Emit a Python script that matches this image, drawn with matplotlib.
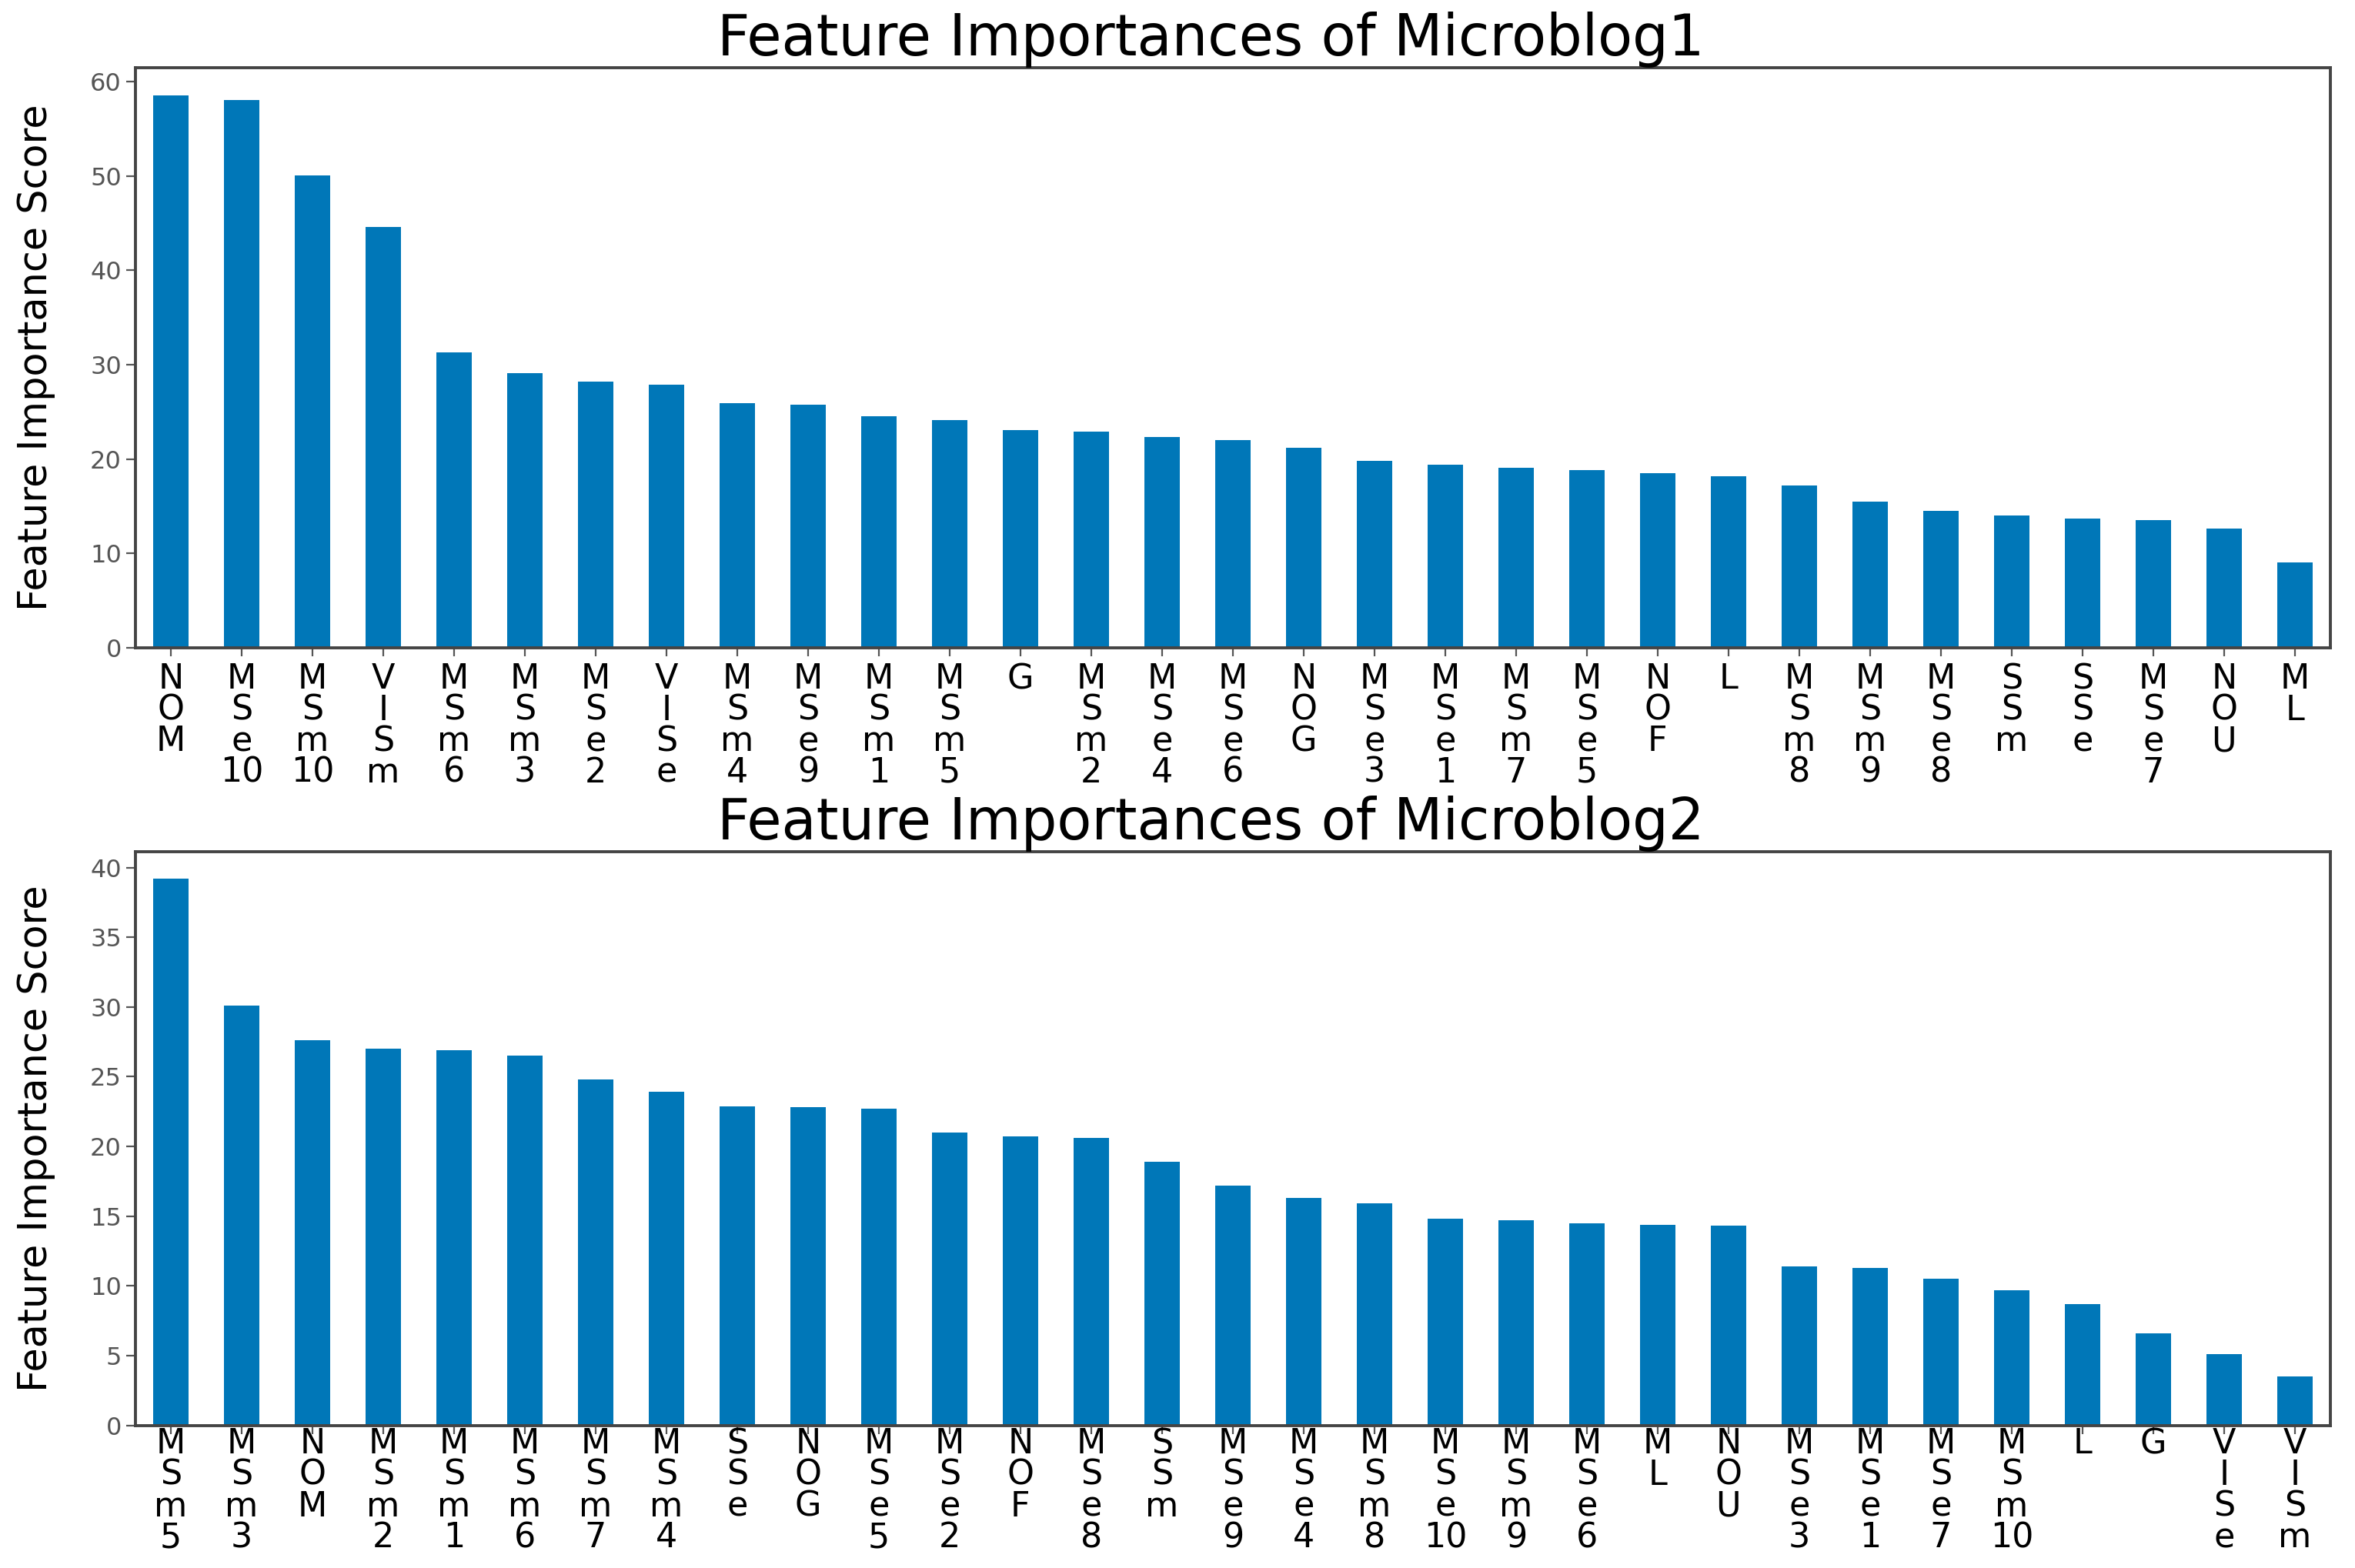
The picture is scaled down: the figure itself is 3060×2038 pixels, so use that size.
import matplotlib
matplotlib.use("Agg")
import matplotlib.pyplot as plt
import numpy as np

names1 = ["NOM", "MSe10", "MSm10", "VISm", "MSm6", "MSm3", "MSe2", "VISe", "MSm4", "MSe9",
          "MSm1", "MSm5", "G", "MSm2", "MSe4", "MSe6", "NOG", "MSe3", "MSe1", "MSm7",
          "MSe5", "NOF", "L", "MSm8", "MSm9", "MSe8", "SSm", "SSe", "MSe7", "NOU", "ML"]
scores1 = [58.6, 58.1, 50.1, 44.6, 31.3, 29.1, 28.2, 27.9, 25.9, 25.8,
           24.5, 24.1, 23.1, 22.9, 22.3, 22.0, 21.2, 19.8, 19.4, 19.1,
           18.8, 18.5, 18.2, 17.2, 15.5, 14.5, 14.0, 13.7, 13.5, 12.6, 9.0]

names2 = ["MSm5", "MSm3", "NOM", "MSm2", "MSm1", "MSm6", "MSm7", "MSm4", "SSe", "NOG",
          "MSe5", "MSe2", "NOF", "MSe8", "SSm", "MSe9", "MSe4", "MSm8", "MSe10", "MSm9",
          "MSe6", "ML", "NOU", "MSe3", "MSe1", "MSe7", "MSm10", "L", "G", "VISe", "VISm"]
scores2 = [39.2, 30.1, 27.6, 27.0, 26.9, 26.5, 24.8, 23.9, 22.9, 22.8,
           22.7, 21.0, 20.7, 20.6, 18.9, 17.2, 16.3, 15.9, 14.8, 14.7,
           14.5, 14.4, 14.3, 11.4, 11.3, 10.5, 9.7, 8.7, 6.6, 5.1, 3.5]

bar_color = "#0077B8"


def stack(name):
    # one character per line, numbers kept together
    parts = []
    i = 0
    while i < len(name):
        if name[i].isdigit():
            j = i
            while j < len(name) and name[j].isdigit():
                j += 1
            parts.append(name[i:j])
            i = j
        else:
            parts.append(name[i])
            i += 1
    return "\n".join(parts)


def draw(ax, names, scores, title, xpad):
    x = np.arange(len(names))
    ax.bar(x, scores, width=0.5, color=bar_color)
    ax.set_xlim(-0.5, len(names) - 0.5)
    ax.set_ylim(0, max(scores) * 1.05)
    ax.set_xticks(x)
    ax.set_xticklabels([stack(n) for n in names], rotation=0,
                       fontsize=16, linespacing=0.93, va="top")
    ax.tick_params(axis="y", labelsize=11.5, labelcolor="#555555", colors="#555555",
                   length=4.5, pad=2)
    ax.tick_params(axis="x", length=4, color="#555555", pad=xpad)
    ax.set_title(title, fontsize=26.5, pad=0, x=0.49)
    ax.set_ylabel("Feature Importance Score", fontsize=18.3)
    ax.yaxis.set_label_coords(-0.0365, 0.5)
    for s in ax.spines.values():
        s.set_color("#444444")
        s.set_linewidth(1.4)


fig = plt.figure(figsize=(15.3, 10.19), dpi=200)
ax1 = fig.add_axes([0.0575, 0.587, 0.932, 0.370])
ax2 = fig.add_axes([0.0575, 0.091, 0.932, 0.366])
draw(ax1, names1, scores1, "Feature Importances of Microblog1", 3)
draw(ax2, names2, scores2, "Feature Importances of Microblog2", -3)
ax2.set_yticks([0, 5, 10, 15, 20, 25, 30, 35, 40])

fig.savefig("out.png", dpi=200)
